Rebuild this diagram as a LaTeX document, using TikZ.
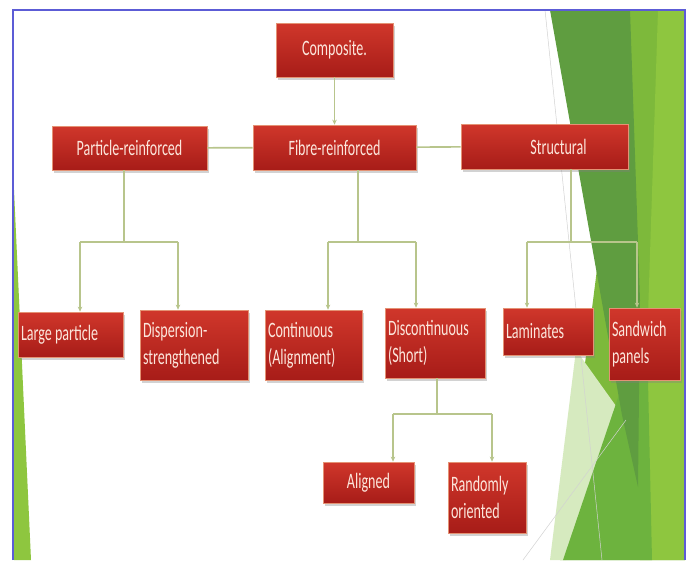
\documentclass[tikz,border=0pt]{standalone}
\usepackage{fontspec}
\newfontfamily\boxfont[FakeStretch=0.64]{Carlito}
\usetikzlibrary{shadows,arrows.meta}
\definecolor{boxred}{HTML}{D0372B}
\definecolor{boxdark}{HTML}{A71C18}
\definecolor{boxedge}{HTML}{E49274}
\definecolor{boxtext}{HTML}{FCE6DC}
\definecolor{linkgreen}{HTML}{B8C58C}
\definecolor{frameblue}{HTML}{5C5CD6}
\definecolor{leafdark}{HTML}{5F9D40}
\definecolor{leafmid}{HTML}{6DB33E}
\definecolor{leaflime}{HTML}{7DB93B}
\definecolor{leafbright}{HTML}{8EC63F}
\definecolor{leafpale}{HTML}{D6EABF}

\begin{document}
\begin{tikzpicture}[x=1pt,y=-1pt,
	box/.style={rectangle, top color=boxred, bottom color=boxdark, draw=boxedge,
		line width=0.7pt, inner sep=3pt, text=boxtext,
		font=\boxfont\fontsize{22}{27}\selectfont,
		drop shadow={opacity=0.35, shadow xshift=1.5pt, shadow yshift=-3pt}},
	lbox/.style={box, align=flush left, text width=#1},
	link/.style={draw=linkgreen, line width=1.6pt},
	arr/.style={link, -{Stealth[length=5pt,width=4.5pt]}}]
\useasboundingbox[fill=white] (0,0) rectangle (691,560);

% slide background
\fill[leaflime] (630,10) -- (685,10) -- (685,560) -- (560,560) -- cycle;
\fill[leafbright] (658,10) -- (685,10) -- (685,560) -- (640,560) -- cycle;
\fill[leafpale] (576,350) -- (626,420) -- (566,560) -- (550,560) -- cycle;
\fill[leafmid] (624,380) -- (648,380) -- (652,560) -- (563,560) -- cycle;
\fill[leafdark] (550,10) -- (630,10) -- (640,300) -- (638,487) -- (622,415) -- cycle;
\fill[leafbright] (14,190) -- (14,560) -- (31,560) -- cycle;
\draw[gray!35, line width=0.5pt] (545,10) -- (602,560);
\draw[gray!35, line width=0.5pt] (626,420) -- (523,560);
\draw[frameblue, line width=1.8pt] (13,560) -- (13,10) -- (685,10) -- (685,560);

% boxes
\node[box, minimum width=117pt, minimum height=54pt] (comp) at (334.5,50) {Composite.};
\node[box, minimum width=155pt, minimum height=44pt] (part) at (129.5,148) {Particle-reinforced};
\node[box, minimum width=163pt, minimum height=45pt] (fibre) at (334.5,147.5) {Fibre-reinforced};
\node[box, minimum width=167pt, minimum height=45pt] (struc) at (544.5,146.5) {\hspace*{28pt}Structural};

\node[lbox=99pt, minimum height=45pt] (large) at (70.5,334.5) {Large particle};
\node[lbox=102pt, minimum height=70pt] (disp) at (194,345) {Dispersion-\\strengthened};
\node[lbox=91pt, minimum height=70pt] (cont) at (313.5,345) {Continuous\\(Alignment)};
\node[lbox=94pt, minimum height=70pt] (disc) at (435,343) {Discontinuous\\(Short)};
\node[lbox=84pt, minimum height=47pt] (lam) at (548,331.5) {Laminates};
\node[lbox=65pt, minimum height=72pt] (sand) at (644.5,344) {Sandwich\\panels};

\node[box, minimum width=91pt, minimum height=41pt] (alig) at (368.5,482.5) {Aligned};
\node[lbox=72pt, minimum height=71pt] (rand) at (487,497.5) {Randomly\\oriented};

% connectors
\draw[arr] (comp) -- (fibre);
\draw[link] (part) -- (fibre);
\draw[link] (fibre) -- (struc);

\coordinate (pj) at (124,242);
\coordinate (pl) at (80,242);
\coordinate (pr) at (178,242);
\draw[link] (part.south -| pj) -- (pj);
\draw[link] (pl) -- (pr);
\draw[arr] (pl) -- (pl |- large.north);
\draw[arr] (pr) -- (pr |- disp.north);

\coordinate (fj) at (358,242);
\coordinate (fl) at (328,242);
\coordinate (fr) at (416,242);
\draw[link] (fibre.south -| fj) -- (fj);
\draw[link] (fl) -- (fr);
\draw[arr] (fl) -- (fl |- cont.north);
\draw[arr] (fr) -- (fr |- disc.north);

\coordinate (sj) at (571,242);
\coordinate (sl) at (527,242);
\coordinate (sr) at (637,242);
\draw[link] (struc.south -| sj) -- (sj);
\draw[link] (sl) -- (sr);
\draw[arr] (sl) -- (sl |- lam.north);
\draw[arr] (sr) -- (sr |- sand.north);

\coordinate (dj) at (437,414);
\coordinate (dl) at (393,414);
\coordinate (dr) at (492,414);
\draw[link] (disc.south -| dj) -- (dj);
\draw[link] (dl) -- (dr);
\draw[arr] (dl) -- (dl |- alig.north);
\draw[arr] (dr) -- (dr |- rand.north);
\end{tikzpicture}
\end{document}
